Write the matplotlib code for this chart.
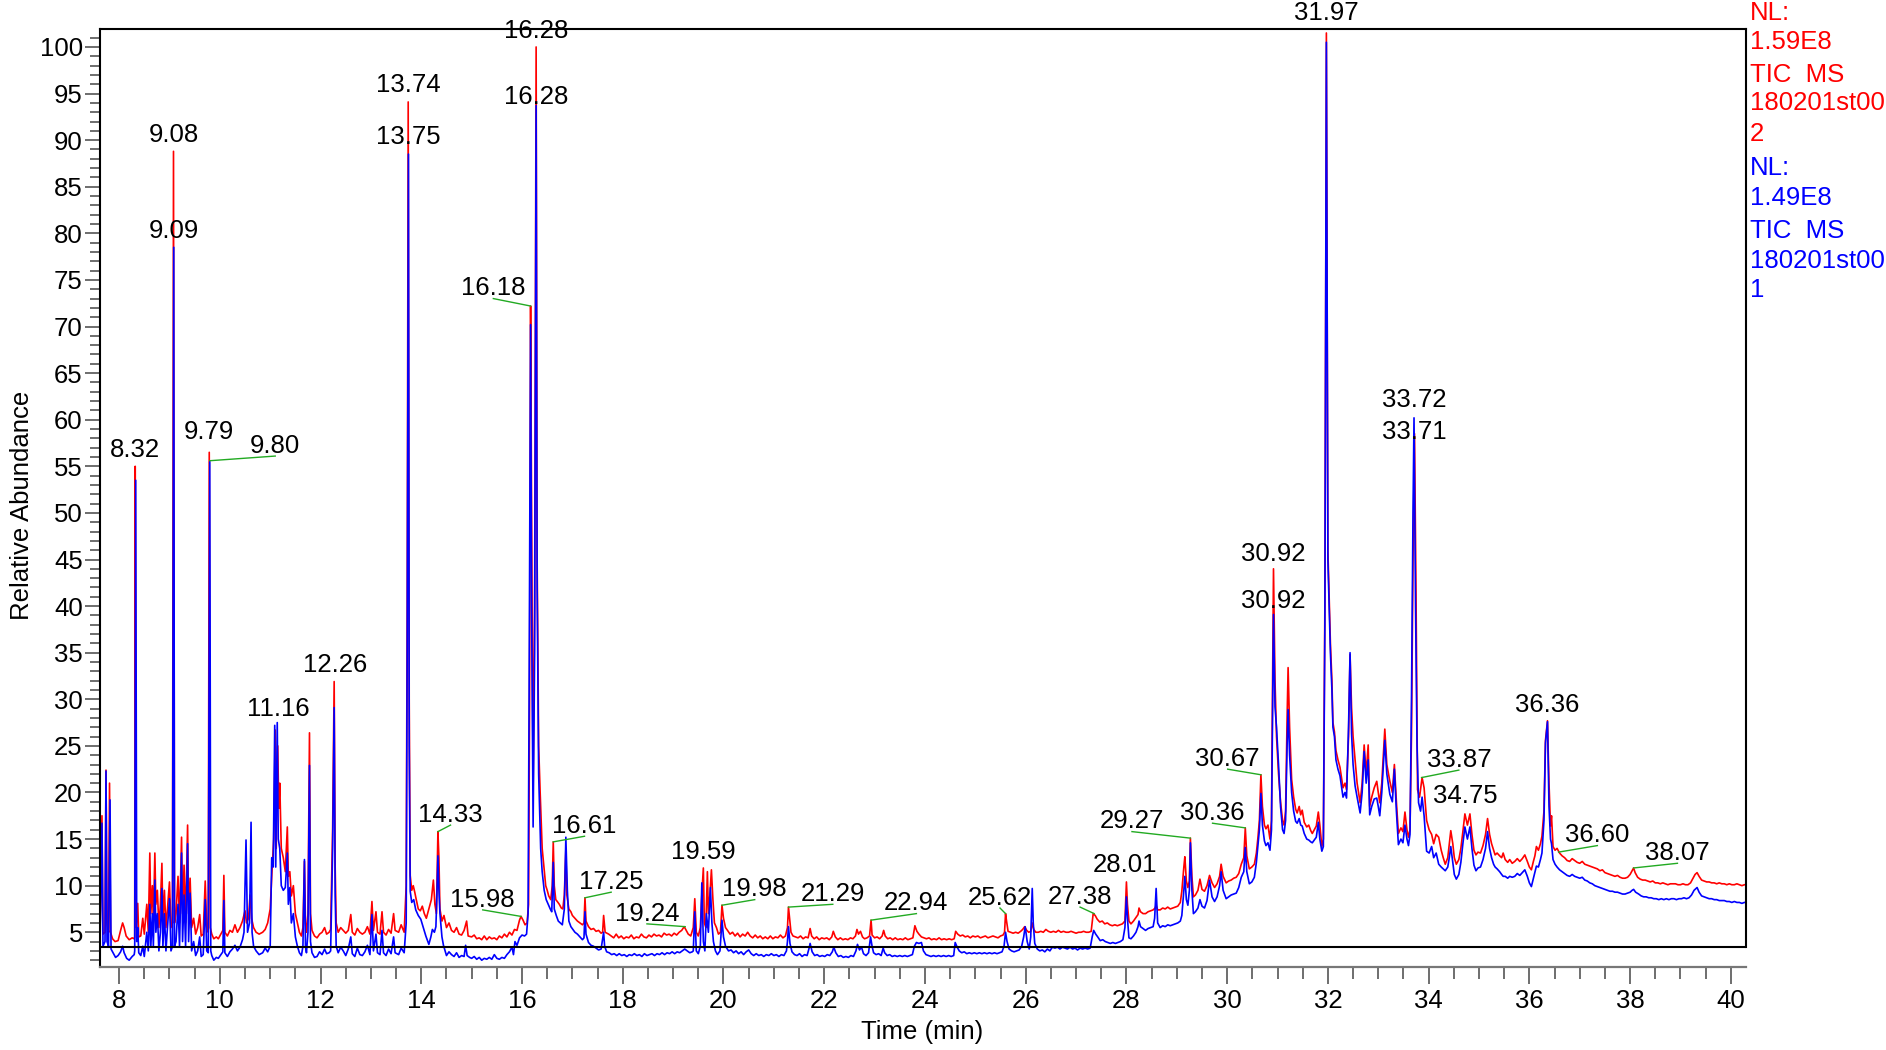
import matplotlib
matplotlib.use("Agg")
import matplotlib.pyplot as plt
import numpy as np

plt.rcParams['font.family'] = ['Liberation Sans', 'DejaVu Sans']

# ---- trace data: (time in min, relative abundance) ----
red_a = [
    (7.62, 4.5), (7.66, 17.5), (7.68, 4.8), (7.72, 5.0), (7.74, 22.4), (7.76, 6.0), (7.79, 5.0),
    (7.81, 21.0), (7.83, 5.0), (7.87, 4.3), (7.92, 4.0), (7.98, 4.1), (8.03, 5.2), (8.07, 6.0),
    (8.10, 5.5), (8.14, 4.6), (8.20, 4.2), (8.26, 4.4), (8.30, 4.3), (8.31, 4.5), (8.32, 55.0),
    (8.34, 5.5), (8.37, 8.1), (8.39, 4.5), (8.43, 4.6), (8.47, 6.5), (8.50, 4.8), (8.55, 8.0),
    (8.58, 5.0), (8.61, 13.5), (8.63, 7.0), (8.66, 10.0), (8.68, 6.0), (8.71, 13.5), (8.73, 8.0),
    (8.76, 9.5), (8.79, 5.5), (8.82, 8.0), (8.85, 12.4), (8.87, 6.0), (8.90, 9.5), (8.93, 5.5),
    (8.96, 7.5), (9.00, 10.4), (9.03, 5.5), (9.06, 6.0), (9.08, 88.8), (9.10, 6.0), (9.13, 7.0),
    (9.17, 11.0), (9.20, 6.0), (9.24, 15.2), (9.26, 7.0), (9.29, 12.2), (9.32, 6.0), (9.36, 16.5),
    (9.38, 7.0), (9.41, 10.8), (9.44, 5.5), (9.48, 6.5), (9.52, 4.8), (9.56, 5.5), (9.60, 6.9),
    (9.63, 4.6), (9.67, 4.8), (9.71, 10.5), (9.74, 5.5), (9.77, 5.0), (9.79, 56.5), (9.81, 5.5),
    (9.84, 4.8), (9.88, 4.3), (9.93, 4.5), (9.97, 4.3), (10.02, 4.8), (10.06, 5.2), (10.08, 11.1),
    (10.10, 5.0), (10.15, 4.6), (10.20, 5.2), (10.25, 5.0), (10.30, 5.8), (10.35, 5.0), (10.40, 5.5),
    (10.45, 6.2), (10.50, 7.3), (10.53, 6.0), (10.57, 6.5), (10.60, 9.0), (10.63, 6.5), (10.67, 5.5),
    (10.72, 5.0), (10.78, 4.8), (10.85, 5.0), (10.90, 5.3), (10.95, 6.0), (11.00, 7.5), (11.04, 12.0),
    (11.07, 15.0), (11.10, 26.7), (11.12, 14.0), (11.15, 25.0), (11.17, 18.3), (11.19, 21.0),
    (11.22, 14.0), (11.26, 13.0), (11.30, 11.5), (11.34, 16.3), (11.36, 11.0), (11.39, 11.5),
    (11.42, 8.9), (11.46, 10.0), (11.50, 7.0), (11.54, 6.0), (11.58, 5.0), (11.62, 4.6), (11.65, 5.5),
    (11.68, 12.6), (11.70, 6.0), (11.72, 5.0), (11.75, 7.0), (11.78, 26.4), (11.80, 7.0), (11.83, 5.2),
    (11.88, 4.6), (11.93, 4.4), (11.98, 4.8), (12.03, 5.0), (12.08, 5.5), (12.12, 4.8), (12.17, 5.0),
    (12.20, 5.3), (12.24, 16.2), (12.27, 31.9), (12.29, 12.0), (12.31, 6.0), (12.35, 5.0), (12.40, 5.5),
    (12.45, 5.2), (12.50, 4.9), (12.55, 5.2), (12.60, 6.9), (12.63, 5.0), (12.68, 4.7), (12.73, 5.4),
    (12.78, 5.0), (12.83, 4.8), (12.88, 5.0), (12.93, 5.6), (12.98, 4.8), (13.02, 8.3), (13.05, 5.2),
    (13.10, 7.2), (13.13, 5.0), (13.18, 4.8), (13.22, 7.2), (13.25, 5.0), (13.30, 4.7), (13.35, 5.3),
    (13.40, 4.9), (13.45, 7.0), (13.48, 5.2), (13.55, 5.0), (13.60, 5.8), (13.66, 5.0), (13.70, 10.0),
    (13.72, 40.0), (13.74, 94.1), (13.76, 30.0),
]
red_b = [
    (13.78, 11.1), (13.81, 9.5), (13.84, 10.0), (13.87, 9.3), (13.90, 8.5), (13.94, 7.5), (13.98, 7.3),
    (14.02, 7.8), (14.06, 7.0), (14.10, 6.5), (14.15, 7.5), (14.20, 8.5), (14.24, 10.6), (14.27, 8.0),
    (14.30, 7.0), (14.33, 15.8), (14.35, 13.0), (14.37, 7.5), (14.41, 6.2), (14.45, 6.8), (14.50, 5.5),
    (14.55, 6.0), (14.60, 5.2), (14.65, 5.0), (14.70, 5.5), (14.75, 4.8), (14.80, 4.7), (14.85, 5.2),
    (14.90, 6.2), (14.93, 4.6), (15.00, 4.5), (15.05, 4.7), (15.10, 4.3), (15.15, 4.4), (15.20, 4.2),
    (15.25, 4.6), (15.30, 4.2), (15.35, 4.5), (15.40, 4.3), (15.45, 4.4), (15.50, 4.2), (15.55, 4.6),
    (15.60, 4.4), (15.65, 4.8), (15.70, 4.5), (15.75, 5.0), (15.80, 4.7), (15.85, 5.3), (15.90, 5.2),
    (15.95, 6.3), (15.98, 6.7), (16.02, 6.3), (16.06, 5.8), (16.10, 6.0), (16.13, 8.0), (16.15, 30.0),
    (16.17, 72.2), (16.19, 50.0), (16.22, 20.3), (16.25, 40.0), (16.28, 100.0), (16.30, 45.0),
    (16.33, 25.0), (16.36, 20.0), (16.40, 14.0), (16.44, 11.7), (16.47, 10.0), (16.50, 9.5),
    (16.53, 8.9), (16.57, 8.5), (16.60, 10.0), (16.62, 14.7), (16.64, 10.0), (16.67, 8.5), (16.70, 8.3),
    (16.74, 8.0), (16.78, 7.6), (16.81, 7.5), (16.84, 9.0), (16.87, 13.8), (16.89, 9.0), (16.93, 7.5),
    (16.97, 7.2), (17.00, 6.8), (17.05, 6.5), (17.10, 6.2), (17.15, 6.0), (17.20, 5.8), (17.23, 6.0),
    (17.25, 8.7), (17.27, 6.2), (17.32, 5.6), (17.37, 5.3), (17.42, 5.4), (17.47, 5.1), (17.52, 5.2),
    (17.57, 4.9), (17.60, 5.0), (17.62, 6.8), (17.65, 5.0), (17.72, 4.8), (17.77, 4.6), (17.82, 4.4),
    (17.87, 4.8), (17.92, 4.4), (17.97, 4.6), (18.02, 4.3), (18.07, 4.5), (18.12, 4.4), (18.17, 4.7),
    (18.22, 4.3), (18.27, 4.5), (18.32, 4.4), (18.37, 4.8), (18.42, 4.5), (18.47, 4.4), (18.52, 4.7),
    (18.57, 4.5), (18.62, 4.8), (18.67, 4.6), (18.72, 4.7), (18.77, 4.5), (18.82, 4.9), (18.87, 4.7),
    (18.92, 4.8), (18.97, 4.6), (19.02, 4.9), (19.07, 4.7), (19.12, 5.0), (19.17, 5.2), (19.22, 5.6),
    (19.26, 5.2), (19.30, 4.8), (19.35, 4.6), (19.40, 5.5), (19.43, 8.6), (19.46, 5.0), (19.50, 4.6),
    (19.54, 5.5), (19.57, 9.0), (19.60, 11.9), (19.62, 6.0), (19.65, 5.5), (19.68, 11.5), (19.70, 7.0),
    (19.73, 9.0), (19.76, 11.7), (19.79, 8.5), (19.82, 6.0), (19.86, 5.5), (19.90, 4.8), (19.94, 5.0),
    (19.97, 7.9), (20.00, 6.5), (20.04, 5.5), (20.08, 5.2), (20.13, 4.8),
]
red_c = [
    (20.18, 5.0), (20.23, 4.6), (20.28, 4.9), (20.33, 4.5), (20.38, 4.8), (20.43, 4.6), (20.48, 5.0),
    (20.53, 4.6), (20.58, 4.4), (20.63, 4.7), (20.68, 4.4), (20.73, 4.6), (20.78, 4.3), (20.83, 4.5),
    (20.88, 4.3), (20.93, 4.6), (20.98, 4.3), (21.03, 4.5), (21.08, 4.4), (21.13, 4.7), (21.18, 4.4),
    (21.23, 4.6), (21.27, 5.5), (21.29, 7.7), (21.31, 6.6), (21.34, 5.0), (21.38, 4.6), (21.43, 4.5),
    (21.48, 4.4), (21.53, 4.6), (21.58, 4.3), (21.63, 4.5), (21.68, 4.4), (21.72, 5.4), (21.75, 4.6),
    (21.80, 4.3), (21.85, 4.5), (21.90, 4.2), (21.95, 4.4), (22.00, 4.3), (22.05, 4.4), (22.10, 4.2),
    (22.15, 4.5), (22.18, 5.1), (22.22, 4.5), (22.27, 4.2), (22.32, 4.4), (22.37, 4.2), (22.42, 4.3),
    (22.47, 4.2), (22.52, 4.4), (22.57, 4.3), (22.62, 4.6), (22.65, 5.3), (22.68, 4.8), (22.72, 5.1),
    (22.76, 4.5), (22.80, 4.3), (22.85, 4.4), (22.90, 4.6), (22.93, 6.3), (22.95, 4.7), (23.00, 4.4),
    (23.05, 4.5), (23.10, 4.3), (23.15, 4.6), (23.18, 5.2), (23.21, 4.6), (23.26, 4.3), (23.31, 4.4),
    (23.36, 4.2), (23.41, 4.4), (23.46, 4.2), (23.51, 4.3), (23.56, 4.2), (23.61, 4.4), (23.66, 4.2),
    (23.71, 4.3), (23.76, 4.4), (23.80, 5.7), (23.84, 5.1), (23.88, 4.8), (23.93, 4.5), (23.98, 4.4),
    (24.03, 4.3), (24.08, 4.4), (24.13, 4.2), (24.18, 4.3), (24.23, 4.2), (24.28, 4.4), (24.33, 4.2),
    (24.38, 4.3), (24.43, 4.2), (24.48, 4.3), (24.53, 4.2), (24.58, 4.3), (24.61, 5.1), (24.65, 4.8),
    (24.70, 4.6), (24.75, 4.7), (24.80, 4.5), (24.85, 4.6), (24.90, 4.4), (24.95, 4.6), (25.00, 4.5),
    (25.05, 4.6), (25.10, 4.4), (25.15, 4.5), (25.20, 4.6), (25.25, 4.4), (25.30, 4.5), (25.35, 4.6),
    (25.40, 4.5), (25.45, 4.4), (25.50, 4.6), (25.55, 4.7), (25.58, 5.0), (25.60, 7.0), (25.62, 6.2),
    (25.65, 5.1), (25.70, 5.0), (25.75, 4.9), (25.80, 5.0), (25.85, 4.9), (25.90, 5.1), (25.94, 5.3),
    (25.98, 5.6), (26.02, 5.2), (26.06, 5.0), (26.10, 5.1), (26.13, 6.0), (26.16, 5.3), (26.20, 5.0),
    (26.25, 5.0), (26.30, 5.1), (26.35, 5.0), (26.40, 5.3), (26.45, 5.1), (26.50, 5.0), (26.55, 5.1),
    (26.60, 5.0), (26.65, 5.2), (26.70, 5.0), (26.75, 5.1), (26.80, 5.0), (26.85, 5.0), (26.90, 5.1),
    (26.95, 5.0), (27.00, 4.9), (27.05, 5.0), (27.10, 5.0), (27.15, 5.1), (27.20, 5.0), (27.25, 5.0),
    (27.30, 5.1),
]
red_d = [
    (27.34, 7.0), (27.38, 6.8), (27.42, 6.4), (27.47, 6.1), (27.52, 6.2), (27.57, 5.9), (27.62, 6.0),
    (27.67, 5.8), (27.72, 5.7), (27.77, 5.8), (27.82, 5.7), (27.87, 5.8), (27.92, 5.9), (27.97, 6.2),
    (28.00, 10.4), (28.02, 8.0), (28.05, 6.2), (28.09, 5.9), (28.14, 6.2), (28.19, 6.6), (28.23, 6.9),
    (28.25, 7.6), (28.28, 7.2), (28.33, 7.0), (28.38, 7.0), (28.43, 7.2), (28.48, 7.3), (28.53, 7.4),
    (28.57, 7.6), (28.59, 7.9), (28.62, 7.4), (28.67, 7.4), (28.72, 7.6), (28.77, 7.5), (28.82, 7.7),
    (28.87, 7.5), (28.92, 7.6), (28.97, 7.7), (29.02, 7.8), (29.07, 8.2), (29.10, 9.4), (29.14, 12.0),
    (29.16, 13.1), (29.19, 10.5), (29.22, 9.8), (29.25, 10.5), (29.27, 15.1), (29.30, 11.0),
    (29.33, 8.8), (29.37, 9.0), (29.42, 9.5), (29.46, 10.7), (29.50, 9.6), (29.55, 9.4), (29.60, 10.0),
    (29.65, 11.1), (29.70, 10.3), (29.75, 9.8), (29.80, 10.2), (29.85, 11.0), (29.88, 12.3),
    (29.92, 11.0), (29.98, 10.3), (30.03, 10.5), (30.08, 10.6), (30.13, 10.8), (30.18, 10.9),
    (30.23, 11.3), (30.28, 12.3), (30.33, 13.0), (30.36, 16.2), (30.39, 13.2), (30.44, 11.8),
    (30.49, 12.0), (30.54, 12.3), (30.58, 13.5), (30.61, 15.1), (30.64, 17.0), (30.67, 21.9),
    (30.70, 18.5), (30.74, 16.5), (30.77, 16.1), (30.81, 16.5), (30.85, 15.0), (30.88, 17.0),
    (30.90, 30.0), (30.92, 44.0), (30.95, 32.0), (30.98, 26.0), (31.02, 22.0), (31.06, 19.0),
    (31.10, 17.0), (31.13, 16.5), (31.16, 18.0), (31.19, 28.0), (31.21, 33.4), (31.24, 27.0),
    (31.28, 21.4), (31.32, 19.5), (31.36, 18.2), (31.39, 17.8), (31.43, 18.5), (31.46, 17.6),
    (31.49, 18.1), (31.53, 16.8), (31.58, 16.3), (31.62, 16.5), (31.66, 15.9), (31.69, 15.6),
    (31.73, 16.0), (31.77, 16.4), (31.81, 17.9), (31.84, 16.5), (31.88, 14.2), (31.91, 15.0),
    (31.94, 40.0), (31.97, 101.5),
]
red_e = [
    (32.00, 46.0), (32.03, 40.0), (32.05, 36.0), (32.08, 32.0), (32.10, 27.5), (32.13, 26.5),
    (32.16, 24.5), (32.20, 23.5), (32.24, 22.7), (32.30, 20.5), (32.34, 21.0), (32.37, 20.3),
    (32.41, 26.0), (32.44, 34.8), (32.47, 29.1), (32.50, 26.0), (32.54, 23.5), (32.58, 21.0),
    (32.64, 18.9), (32.68, 21.0), (32.72, 25.1), (32.76, 22.0), (32.80, 25.1), (32.83, 18.5),
    (32.87, 19.5), (32.92, 20.5), (32.97, 21.2), (33.00, 20.0), (33.03, 18.9), (33.07, 21.0),
    (33.13, 26.8), (33.17, 23.0), (33.23, 21.2), (33.28, 20.0), (33.32, 23.0), (33.36, 19.0),
    (33.40, 15.6), (33.45, 16.2), (33.49, 15.8), (33.53, 17.9), (33.57, 16.0), (33.60, 15.2),
    (33.63, 16.0), (33.66, 26.3), (33.69, 45.0), (33.72, 58.5), (33.75, 41.2), (33.78, 20.3),
    (33.82, 19.5), (33.87, 21.6), (33.91, 20.5), (33.96, 17.0), (34.01, 16.0), (34.06, 15.5),
    (34.10, 14.5), (34.15, 15.5), (34.20, 15.2), (34.25, 13.8), (34.29, 13.0), (34.33, 12.3),
    (34.38, 13.0), (34.41, 14.5), (34.44, 15.9), (34.48, 14.5), (34.51, 13.0), (34.55, 12.3),
    (34.60, 12.8), (34.64, 14.0), (34.68, 15.8), (34.72, 17.7), (34.77, 16.5), (34.82, 17.7),
    (34.86, 15.5), (34.90, 13.8), (34.94, 13.3), (34.98, 13.6), (35.03, 13.5), (35.08, 14.3),
    (35.13, 15.5), (35.17, 17.2), (35.21, 15.5), (35.25, 14.5), (35.29, 13.8), (35.32, 13.3),
    (35.36, 13.5), (35.41, 13.2), (35.45, 13.0), (35.48, 13.5), (35.52, 12.8), (35.57, 12.5),
    (35.61, 12.8), (35.66, 12.4), (35.71, 12.6), (35.76, 12.9), (35.81, 12.6), (35.86, 12.9),
    (35.91, 13.3), (35.96, 12.6), (36.00, 12.0), (36.04, 11.7), (36.08, 12.6), (36.11, 13.2),
    (36.14, 14.2), (36.18, 13.8), (36.22, 14.5), (36.25, 15.3), (36.29, 18.0), (36.32, 25.6),
    (36.36, 27.7), (36.39, 21.0), (36.42, 16.4), (36.44, 17.5), (36.47, 14.2), (36.51, 13.8),
    (36.55, 14.0), (36.60, 13.5), (36.65, 13.2), (36.70, 13.0), (36.75, 12.7), (36.80, 12.6),
    (36.85, 12.9), (36.90, 12.7), (36.95, 12.5), (37.00, 12.4), (37.05, 12.6), (37.10, 12.3),
    (37.15, 12.2), (37.20, 12.1), (37.25, 12.0), (37.30, 11.9), (37.35, 11.8), (37.40, 11.6),
    (37.45, 11.7), (37.50, 11.4), (37.55, 11.3), (37.60, 11.2), (37.65, 11.1), (37.70, 11.0),
    (37.75, 11.1), (37.80, 10.9), (37.85, 10.8), (37.90, 10.8), (37.95, 10.9), (38.00, 11.2),
    (38.04, 11.6), (38.07, 11.9), (38.10, 11.4), (38.15, 10.9), (38.20, 10.7), (38.25, 10.6),
    (38.30, 10.6), (38.35, 10.5), (38.40, 10.4), (38.45, 10.5), (38.50, 10.3), (38.55, 10.3),
    (38.60, 10.2), (38.65, 10.3), (38.70, 10.2), (38.75, 10.1), (38.80, 10.2), (38.85, 10.2),
    (38.90, 10.2), (38.95, 10.1), (39.00, 10.1), (39.05, 10.2), (39.10, 10.1), (39.15, 10.1),
    (39.20, 10.3), (39.25, 10.8), (39.29, 11.2), (39.33, 11.4), (39.37, 11.0), (39.42, 10.6),
    (39.47, 10.5), (39.52, 10.4), (39.57, 10.4), (39.62, 10.3), (39.67, 10.3), (39.72, 10.2),
    (39.77, 10.3), (39.82, 10.2), (39.87, 10.2), (39.92, 10.1), (39.97, 10.2), (40.02, 10.1),
    (40.07, 10.1), (40.12, 10.2), (40.17, 10.1), (40.22, 10.0), (40.27, 10.1), (40.32, 10.1),
]

blue_a = [
    (7.62, 3.5), (7.66, 16.7), (7.68, 3.5), (7.72, 4.0), (7.74, 22.3), (7.76, 4.0), (7.79, 3.5),
    (7.82, 19.2), (7.84, 3.2), (7.88, 2.8), (7.93, 2.3), (7.98, 2.5), (8.03, 2.9), (8.07, 3.5),
    (8.10, 2.8), (8.15, 2.2), (8.20, 2.0), (8.26, 2.4), (8.30, 2.6), (8.31, 3.0), (8.33, 53.5),
    (8.35, 4.0), (8.37, 5.5), (8.39, 2.8), (8.43, 2.5), (8.47, 3.5), (8.50, 2.4), (8.55, 5.0),
    (8.58, 3.0), (8.61, 8.0), (8.63, 3.5), (8.66, 7.0), (8.68, 3.5), (8.71, 10.6), (8.73, 5.0),
    (8.76, 7.0), (8.79, 3.0), (8.82, 5.0), (8.85, 9.7), (8.87, 3.5), (8.90, 7.0), (8.93, 3.0),
    (8.96, 5.5), (9.00, 8.6), (9.03, 3.0), (9.06, 3.5), (9.085, 78.5), (9.10, 3.5), (9.13, 4.0),
    (9.17, 8.0), (9.20, 3.5), (9.24, 13.5), (9.26, 4.0), (9.29, 9.0), (9.32, 3.5), (9.36, 14.5),
    (9.38, 4.0), (9.41, 9.2), (9.44, 3.0), (9.48, 4.0), (9.52, 2.5), (9.56, 3.0), (9.60, 4.5),
    (9.63, 2.4), (9.67, 2.6), (9.71, 8.5), (9.74, 3.0), (9.77, 2.8), (9.80, 55.5), (9.82, 3.0),
    (9.84, 2.5), (9.88, 2.0), (9.93, 2.3), (9.97, 2.2), (10.02, 2.6), (10.06, 2.9), (10.08, 8.4),
    (10.10, 2.8), (10.15, 2.4), (10.20, 2.9), (10.25, 3.2), (10.30, 3.6), (10.35, 3.0), (10.40, 3.4),
    (10.45, 4.2), (10.48, 5.0), (10.52, 14.9), (10.55, 5.0), (10.59, 6.0), (10.62, 16.8), (10.64, 5.0),
    (10.67, 3.5), (10.72, 3.0), (10.78, 2.6), (10.85, 2.8), (10.90, 3.3), (10.95, 2.9), (11.00, 3.5),
    (11.03, 13.0), (11.06, 12.0), (11.09, 27.2), (11.11, 12.0), (11.14, 27.5), (11.16, 15.0),
    (11.19, 14.0), (11.22, 10.0), (11.26, 9.5), (11.30, 9.8), (11.34, 13.5), (11.36, 8.0),
    (11.39, 9.8), (11.42, 6.0), (11.46, 7.0), (11.50, 4.5), (11.54, 3.5), (11.58, 2.8), (11.62, 2.5),
    (11.65, 3.5), (11.68, 12.8), (11.70, 3.5), (11.72, 2.8), (11.75, 5.0), (11.78, 22.9), (11.80, 4.0),
    (11.83, 2.8), (11.88, 2.3), (11.93, 2.4), (11.98, 2.9), (12.03, 2.6), (12.08, 3.2), (12.12, 2.7),
    (12.17, 2.8), (12.20, 3.0), (12.24, 14.0), (12.27, 29.1), (12.29, 9.0), (12.31, 3.5), (12.35, 2.8),
    (12.40, 3.4), (12.45, 3.0), (12.50, 2.5), (12.55, 3.2), (12.60, 4.5), (12.63, 2.7), (12.68, 2.4),
    (12.73, 3.3), (12.78, 2.6), (12.83, 2.5), (12.88, 2.9), (12.93, 3.6), (12.98, 2.6), (13.02, 6.9),
    (13.05, 3.0), (13.10, 4.8), (13.13, 2.8), (13.18, 2.6), (13.22, 5.2), (13.25, 2.8), (13.30, 2.5),
    (13.35, 3.2), (13.40, 2.7), (13.45, 4.5), (13.48, 2.8), (13.55, 2.6), (13.60, 3.3), (13.66, 2.8),
    (13.70, 6.0), (13.72, 35.0), (13.745, 88.5), (13.76, 25.0),
]
blue_b = [
    (13.78, 9.4), (13.81, 8.2), (13.85, 8.5), (13.89, 7.4), (13.94, 6.8), (13.99, 6.4), (14.04, 5.5),
    (14.09, 4.6), (14.15, 3.7), (14.19, 4.5), (14.22, 5.3), (14.26, 5.0), (14.29, 5.6), (14.31, 9.0),
    (14.33, 13.2), (14.35, 9.5), (14.37, 7.0), (14.41, 4.5), (14.44, 3.6), (14.50, 2.5), (14.55, 2.9),
    (14.60, 2.6), (14.65, 2.4), (14.70, 2.8), (14.75, 2.3), (14.80, 2.5), (14.85, 2.4), (14.88, 3.6),
    (14.91, 2.5), (14.96, 2.3), (15.00, 2.2), (15.05, 2.4), (15.10, 2.1), (15.15, 2.3), (15.20, 2.0),
    (15.25, 2.2), (15.30, 2.1), (15.35, 2.3), (15.40, 2.1), (15.45, 2.6), (15.50, 2.2), (15.55, 2.1),
    (15.60, 2.3), (15.65, 2.2), (15.70, 2.6), (15.75, 2.9), (15.80, 3.4), (15.83, 2.6), (15.86, 4.0),
    (15.90, 3.6), (15.95, 4.4), (16.00, 4.7), (16.05, 4.6), (16.09, 4.8), (16.12, 7.0), (16.14, 30.0),
    (16.17, 70.2), (16.19, 40.0), (16.22, 16.3), (16.25, 35.0), (16.28, 93.7), (16.30, 42.0),
    (16.33, 22.0), (16.37, 14.0), (16.40, 11.5), (16.44, 9.5), (16.48, 8.5), (16.52, 8.0),
    (16.56, 7.5), (16.59, 7.2), (16.62, 12.5), (16.64, 7.5), (16.68, 6.8), (16.72, 6.2), (16.76, 6.0),
    (16.80, 5.8), (16.84, 7.5), (16.87, 15.2), (16.90, 9.5), (16.93, 6.2), (16.97, 5.6), (17.01, 5.3),
    (17.05, 5.0), (17.10, 4.8), (17.15, 4.5), (17.20, 4.2), (17.23, 4.4), (17.25, 7.2), (17.27, 4.8),
    (17.32, 3.9), (17.37, 3.6), (17.42, 3.5), (17.47, 3.3), (17.52, 3.1), (17.57, 3.2), (17.62, 5.0),
    (17.64, 3.5), (17.68, 2.9), (17.73, 2.8), (17.78, 2.6), (17.83, 2.7), (17.88, 2.5), (17.93, 2.7),
    (17.98, 2.5), (18.03, 2.6), (18.08, 2.4), (18.13, 2.6), (18.18, 2.5), (18.23, 2.7), (18.28, 2.5),
    (18.33, 2.6), (18.38, 2.4), (18.43, 2.7), (18.48, 2.5), (18.53, 2.6), (18.58, 2.7), (18.63, 2.5),
    (18.68, 2.7), (18.73, 2.6), (18.78, 2.8), (18.83, 2.6), (18.88, 2.8), (18.93, 2.7), (18.98, 2.9),
    (19.03, 2.7), (19.08, 2.9), (19.13, 2.8), (19.18, 3.0), (19.23, 3.2), (19.28, 3.0), (19.33, 2.8),
    (19.38, 2.9), (19.40, 3.0), (19.43, 7.2), (19.46, 3.0), (19.50, 2.7), (19.54, 3.5), (19.57, 10.3),
    (19.60, 4.0), (19.63, 3.0), (19.66, 7.0), (19.70, 5.0), (19.74, 9.8), (19.77, 6.0), (19.80, 4.0),
    (19.84, 3.0), (19.88, 2.6), (19.93, 3.0), (19.97, 6.3), (20.00, 4.5),
]
blue_c = [
    (20.04, 3.5), (20.10, 3.0), (20.15, 3.1), (20.20, 2.8), (20.25, 3.0), (20.30, 2.7), (20.35, 2.9),
    (20.40, 2.6), (20.45, 2.9), (20.50, 3.1), (20.55, 2.7), (20.60, 2.5), (20.65, 2.7), (20.70, 2.5),
    (20.75, 2.6), (20.80, 2.4), (20.85, 2.6), (20.90, 2.5), (20.95, 2.7), (21.00, 2.5), (21.05, 2.6),
    (21.10, 2.4), (21.15, 2.6), (21.20, 2.5), (21.25, 3.0), (21.27, 4.0), (21.29, 5.6), (21.32, 3.8),
    (21.36, 2.9), (21.41, 2.6), (21.46, 2.5), (21.51, 2.7), (21.56, 2.4), (21.61, 2.6), (21.66, 2.5),
    (21.70, 3.3), (21.72, 3.8), (21.76, 2.9), (21.81, 2.5), (21.86, 2.6), (21.91, 2.4), (21.96, 2.5),
    (22.01, 2.4), (22.06, 2.6), (22.11, 2.5), (22.16, 2.9), (22.19, 3.4), (22.23, 2.8), (22.28, 2.4),
    (22.33, 2.5), (22.38, 2.3), (22.43, 2.4), (22.48, 2.3), (22.53, 2.5), (22.58, 2.4), (22.63, 3.0),
    (22.66, 3.7), (22.70, 3.1), (22.74, 3.4), (22.78, 2.7), (22.83, 2.5), (22.88, 2.8), (22.92, 4.5),
    (22.95, 3.5), (22.98, 2.8), (23.03, 2.6), (23.08, 2.7), (23.13, 2.5), (23.17, 3.3), (23.20, 2.8),
    (23.25, 2.5), (23.30, 2.6), (23.35, 2.4), (23.40, 2.5), (23.45, 2.4), (23.50, 2.5), (23.55, 2.4),
    (23.60, 2.5), (23.65, 2.4), (23.70, 2.5), (23.75, 2.6), (23.79, 3.5), (23.83, 3.9), (23.88, 3.8),
    (23.93, 3.9), (23.97, 3.0), (24.02, 2.6), (24.07, 2.5), (24.12, 2.4), (24.17, 2.5), (24.22, 2.4),
    (24.27, 2.5), (24.32, 2.4), (24.37, 2.5), (24.42, 2.4), (24.47, 2.5), (24.52, 2.4), (24.57, 2.5),
    (24.60, 3.9), (24.64, 3.4), (24.68, 3.0), (24.73, 2.8), (24.78, 2.9), (24.83, 2.7), (24.88, 2.8),
    (24.93, 2.7), (24.98, 2.8), (25.03, 2.7), (25.08, 2.8), (25.13, 2.7), (25.18, 2.8), (25.23, 2.7),
    (25.28, 2.8), (25.33, 2.7), (25.38, 2.8), (25.43, 2.7), (25.48, 2.8), (25.53, 2.9), (25.57, 3.5),
    (25.60, 5.0), (25.63, 4.0), (25.67, 3.2), (25.72, 3.0), (25.77, 2.9), (25.82, 3.0), (25.87, 3.1),
    (25.92, 3.5), (25.96, 4.5), (25.99, 5.6), (26.03, 4.0), (26.07, 3.2), (26.10, 4.5), (26.13, 9.7),
    (26.15, 6.0), (26.18, 3.8), (26.23, 3.2), (26.28, 3.0), (26.33, 3.1), (26.38, 2.9), (26.43, 3.2),
    (26.48, 3.0), (26.53, 3.4), (26.58, 3.3), (26.63, 3.4), (26.68, 3.2), (26.73, 3.4), (26.78, 3.3),
    (26.83, 3.2), (26.88, 3.4), (26.93, 3.2), (26.98, 3.3), (27.03, 3.1), (27.08, 3.3), (27.13, 3.2),
    (27.18, 3.3), (27.23, 3.2), (27.28, 3.3),
]
blue_d = [
    (27.32, 4.5), (27.35, 5.2), (27.39, 4.8), (27.43, 4.5), (27.48, 4.1), (27.53, 4.2), (27.58, 4.0),
    (27.63, 3.9), (27.68, 3.8), (27.73, 3.9), (27.78, 3.8), (27.83, 3.9), (27.88, 4.0), (27.93, 4.2),
    (27.97, 5.5), (28.00, 8.8), (28.02, 6.5), (28.05, 4.4), (28.09, 4.3), (28.14, 4.6), (28.19, 5.0),
    (28.23, 5.6), (28.25, 6.2), (28.28, 5.6), (28.33, 5.4), (28.38, 5.2), (28.43, 5.4), (28.48, 5.5),
    (28.53, 5.6), (28.56, 6.5), (28.59, 9.7), (28.62, 6.0), (28.67, 5.5), (28.72, 5.7), (28.77, 5.6),
    (28.82, 5.8), (28.87, 5.7), (28.92, 5.8), (28.97, 5.9), (29.02, 6.0), (29.07, 6.2), (29.10, 6.8),
    (29.14, 9.5), (29.16, 11.0), (29.19, 8.5), (29.22, 7.9), (29.25, 9.5), (29.27, 14.6), (29.30, 9.5),
    (29.33, 7.0), (29.37, 7.2), (29.42, 7.6), (29.46, 8.5), (29.50, 7.8), (29.55, 7.6), (29.60, 8.4),
    (29.65, 10.6), (29.70, 8.8), (29.75, 8.3), (29.80, 8.8), (29.85, 10.0), (29.88, 11.5), (29.92, 9.5),
    (29.98, 8.6), (30.03, 8.8), (30.08, 9.0), (30.13, 9.1), (30.18, 9.2), (30.23, 9.8), (30.28, 10.9),
    (30.33, 11.5), (30.36, 14.1), (30.39, 11.5), (30.44, 10.2), (30.49, 10.4), (30.54, 10.9),
    (30.58, 12.5), (30.61, 14.3), (30.64, 16.0), (30.67, 19.9), (30.70, 16.5), (30.74, 14.8),
    (30.77, 14.3), (30.81, 14.6), (30.85, 13.8), (30.88, 16.0), (30.90, 27.0), (30.92, 39.1),
    (30.95, 29.2), (30.98, 27.0), (31.02, 23.0), (31.06, 18.5), (31.10, 16.0), (31.13, 15.6),
    (31.16, 17.0), (31.19, 25.0), (31.21, 28.9), (31.24, 24.0), (31.28, 20.0), (31.32, 18.0),
    (31.36, 16.9), (31.39, 16.7), (31.43, 17.2), (31.46, 16.5), (31.49, 16.4), (31.53, 15.6),
    (31.58, 15.0), (31.62, 14.9), (31.66, 14.7), (31.69, 14.6), (31.73, 14.9), (31.77, 15.2),
    (31.81, 16.8), (31.84, 15.0), (31.88, 13.7), (31.91, 14.2), (31.94, 38.0), (31.97, 100.5),
]
blue_e = [
    (32.00, 45.0), (32.03, 39.0), (32.05, 35.0), (32.08, 31.0), (32.10, 27.0), (32.13, 26.0),
    (32.16, 23.5), (32.20, 22.5), (32.24, 21.8), (32.30, 19.5), (32.34, 20.0), (32.37, 19.4),
    (32.41, 27.0), (32.44, 35.0), (32.47, 26.3), (32.50, 23.0), (32.54, 20.7), (32.58, 19.5),
    (32.64, 17.8), (32.68, 20.0), (32.72, 24.4), (32.76, 21.0), (32.80, 23.5), (32.83, 17.6),
    (32.87, 18.5), (32.92, 19.3), (32.97, 19.4), (33.00, 18.5), (33.03, 17.5), (33.07, 20.0),
    (33.13, 25.6), (33.17, 22.0), (33.23, 19.8), (33.28, 19.0), (33.32, 22.5), (33.36, 18.0),
    (33.40, 14.4), (33.45, 15.0), (33.49, 14.6), (33.53, 16.5), (33.57, 15.0), (33.60, 14.3),
    (33.63, 15.5), (33.66, 30.0), (33.69, 50.0), (33.71, 60.2), (33.74, 40.0), (33.77, 25.0),
    (33.80, 18.9), (33.84, 18.0), (33.87, 19.5), (33.91, 17.5), (33.96, 13.7), (34.01, 13.5),
    (34.06, 14.2), (34.10, 13.0), (34.15, 13.5), (34.20, 12.3), (34.25, 12.0), (34.29, 11.8),
    (34.33, 11.6), (34.38, 12.0), (34.41, 13.0), (34.44, 14.2), (34.48, 12.5), (34.51, 11.2),
    (34.55, 10.7), (34.60, 11.2), (34.64, 12.5), (34.68, 14.5), (34.72, 16.3), (34.77, 15.0),
    (34.82, 16.3), (34.86, 14.0), (34.90, 12.2), (34.94, 11.6), (34.98, 11.9), (35.03, 12.0),
    (35.08, 12.8), (35.13, 14.0), (35.17, 15.8), (35.21, 14.0), (35.25, 13.0), (35.29, 12.3),
    (35.32, 12.0), (35.36, 11.8), (35.41, 11.5), (35.45, 11.2), (35.48, 11.0), (35.52, 11.0),
    (35.57, 10.8), (35.61, 11.0), (35.66, 10.9), (35.71, 11.0), (35.76, 11.3), (35.81, 11.1),
    (35.86, 11.4), (35.91, 11.7), (35.96, 11.0), (36.00, 10.3), (36.04, 9.9), (36.08, 10.8),
    (36.11, 11.5), (36.14, 12.1), (36.18, 12.0), (36.22, 12.8), (36.25, 13.5), (36.29, 17.0),
    (36.32, 25.3), (36.36, 27.6), (36.39, 18.5), (36.42, 15.0), (36.44, 14.5), (36.47, 12.8),
    (36.51, 12.3), (36.55, 12.0), (36.60, 11.7), (36.65, 11.5), (36.70, 11.3), (36.75, 11.1),
    (36.80, 11.0), (36.85, 11.2), (36.90, 11.0), (36.95, 10.9), (37.00, 10.8), (37.05, 10.9),
    (37.10, 10.6), (37.15, 10.5), (37.20, 10.3), (37.25, 10.2), (37.30, 10.0), (37.35, 9.9),
    (37.40, 9.8), (37.45, 9.7), (37.50, 9.6), (37.55, 9.5), (37.60, 9.4), (37.65, 9.4), (37.70, 9.3),
    (37.75, 9.3), (37.80, 9.2), (37.85, 9.1), (37.90, 9.1), (37.95, 9.2), (38.00, 9.3), (38.04, 9.5),
    (38.07, 9.6), (38.11, 9.3), (38.17, 9.1), (38.22, 8.9), (38.27, 8.8), (38.32, 8.8), (38.37, 8.7),
    (38.42, 8.7), (38.47, 8.6), (38.52, 8.6), (38.57, 8.5), (38.62, 8.6), (38.67, 8.5), (38.72, 8.6),
    (38.77, 8.5), (38.82, 8.6), (38.87, 8.6), (38.92, 8.5), (38.97, 8.6), (39.02, 8.6), (39.07, 8.7),
    (39.12, 8.6), (39.17, 8.7), (39.22, 9.0), (39.27, 9.5), (39.33, 9.8), (39.37, 9.3), (39.42, 8.9),
    (39.47, 8.8), (39.52, 8.7), (39.57, 8.6), (39.62, 8.6), (39.67, 8.5), (39.72, 8.5), (39.77, 8.4),
    (39.82, 8.4), (39.87, 8.4), (39.92, 8.3), (39.97, 8.3), (40.02, 8.2), (40.07, 8.3), (40.12, 8.2),
    (40.17, 8.2), (40.22, 8.1), (40.27, 8.2), (40.32, 8.2),
]

# peak labels: text, text position (time, abundance), leader target peak or None
peak_labels = [
    ("31.97", 31.97, 103.6, None), ("16.28", 16.29, 101.7, None), ("16.28", 16.29, 94.6, None),
    ("13.74", 13.75, 95.9, None), ("13.75", 13.75, 90.3, None), ("9.08", 9.08, 90.6, None),
    ("9.09", 9.08, 80.2, None), ("16.18", 15.43, 74.1, (16.17, 72.2)), ("8.32", 8.32, 56.7, None),
    ("9.79", 9.79, 58.7, None), ("9.80", 11.10, 57.2, (9.80, 55.6)), ("33.72", 33.71, 62.1, None),
    ("33.71", 33.71, 58.7, None), ("30.92", 30.91, 45.6, None), ("30.92", 30.91, 40.6, None),
    ("12.26", 12.28, 33.7, None), ("11.16", 11.17, 29.0, None), ("36.36", 36.35, 29.4, None),
    ("30.67", 30.01, 23.6, (30.67, 21.9)), ("33.87", 34.60, 23.5, (33.86, 21.6)),
    ("34.75", 34.72, 19.6, None), ("14.33", 14.58, 17.6, (14.33, 15.8)),
    ("16.61", 17.24, 16.4, (16.62, 14.7)), ("29.27", 28.11, 16.9, (29.27, 15.1)),
    ("30.36", 29.71, 17.8, (30.36, 16.2)), ("28.01", 27.97, 12.2, None),
    ("27.38", 27.08, 8.8, (27.36, 7.0)), ("25.62", 25.49, 8.7, (25.60, 7.0)),
    ("22.94", 23.83, 8.1, (22.93, 6.3)), ("21.29", 22.17, 9.1, (21.29, 7.7)),
    ("19.98", 20.62, 9.6, (19.97, 7.9)), ("19.59", 19.59, 13.6, None),
    ("19.24", 18.48, 7.0, (19.24, 5.6)), ("17.25", 17.77, 10.4, (17.25, 8.7)),
    ("15.98", 15.22, 8.5, (15.98, 6.7)), ("36.60", 37.35, 15.4, (36.58, 13.6)),
    ("38.07", 38.94, 13.5, (38.07, 11.9)),
]

red_info = ["NL:", "1.59E8", "TIC  MS", "180201st00", "2"]
blue_info = ["NL:", "1.49E8", "TIC  MS", "180201st00", "1"]

x_min, x_max = 7.62, 40.31
y_min, y_max = 1.3, 101.93
frame_base = 3.38
fs = 18.5

red = np.array(sorted(red_a + red_b + red_c + red_d + red_e))
blue = np.array(sorted(blue_a + blue_b + blue_c + blue_d + blue_e))

fig = plt.figure(figsize=(18.86, 10.5), dpi=100)
ax = fig.add_axes([0.0530, 0.0793, 0.8730, 0.8931])

ax.plot(red[:, 0], red[:, 1], color='#ff0000', lw=1.2, zorder=2)
ax.plot(blue[:, 0], blue[:, 1], color='#0000ff', lw=1.2, zorder=2.1)

ax.set_xlim(x_min, x_max)
ax.set_ylim(y_min, y_max)

# frame: black top/left, base line, right edge down to base line, grey time axis
for side in ['top', 'left']:
    ax.spines[side].set_color('black')
    ax.spines[side].set_linewidth(1.5)
ax.spines['right'].set_visible(False)
ax.spines['bottom'].set_color('#777777')
ax.spines['bottom'].set_linewidth(1.6)
ax.axhline(frame_base, color='black', lw=1.5, zorder=3)
ax.plot([x_max, x_max], [frame_base, y_max], color='black', lw=1.5, clip_on=False, zorder=3)

ax.set_xticks(np.arange(8, 41, 2))
ax.set_xticks(np.arange(8, 40.5, 0.5), minor=True)
ax.set_yticks(np.arange(5, 101, 5))
ax.set_yticks(np.arange(2, 102, 1), minor=True)
ax.tick_params(axis='y', which='major', length=10.8, width=1.2, color='#555555',
               labelsize=fs, pad=1.5)
ax.tick_params(axis='y', which='minor', length=7.2, width=1.2, color='#555555')
ax.tick_params(axis='x', which='major', length=12, width=1.2, color='#555555',
               labelsize=fs, pad=4)
ax.tick_params(axis='x', which='minor', length=8.6, width=1.2, color='#555555')

for text, tx, ty, peak in peak_labels:
    ax.text(tx, ty, text, ha='center', va='center', fontsize=fs, color='black', zorder=4)
    if peak is not None:
        ax.plot([peak[0], tx], [peak[1], ty - 1.1], color='#22aa22', lw=1.0, zorder=4)

fig.text(0.0115, 0.519, "Relative Abundance", rotation=90, ha='center', va='center', fontsize=fs)
fig.text(0.489, 0.017, "Time (min)", ha='center', va='center', fontsize=fs)

for i, line in enumerate(red_info):
    fig.text(0.9279, [0.9876, 0.960, 0.9286, 0.9019, 0.8724][i], line,
             color='#ff0000', fontsize=fs, ha='left', va='center')
for i, line in enumerate(blue_info):
    fig.text(0.9279, [0.840, 0.8114, 0.780, 0.7514, 0.7238][i], line,
             color='#0000ff', fontsize=fs, ha='left', va='center')

fig.savefig("out.png", dpi=100)
